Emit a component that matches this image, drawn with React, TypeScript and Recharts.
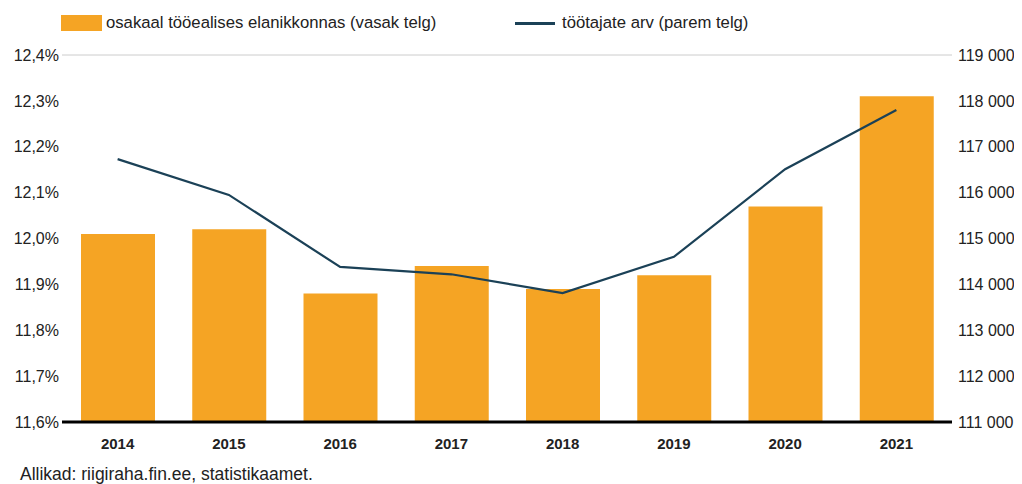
import React from "react";
import { ComposedChart, Bar, Line, XAxis, YAxis, CartesianGrid } from "recharts";

const years = ["2014", "2015", "2016", "2017", "2018", "2019", "2020", "2021"];
const shareValues = [12.01, 12.02, 11.88, 11.94, 11.89, 11.92, 12.07, 12.31];
const workerValues = [116730, 115950, 114380, 114220, 113810, 114600, 116510, 117800];
const leftTicks = [11.6, 11.7, 11.8, 11.9, 12.0, 12.1, 12.2, 12.3, 12.4];
const rightTicks = [111000, 112000, 113000, 114000, 115000, 116000, 117000, 118000, 119000];
const shareLabel = "osakaal tööealises elanikkonnas (vasak telg)";
const workerLabel = "töötajate arv (parem telg)";
const sourceText = "Allikad: riigiraha.fin.ee, statistikaamet.";

const data = years.map((y, i) => ({ year: y, share: shareValues[i], workers: workerValues[i] }));

const BAR = "#F5A424";
const LINE = "#1B4157";
const FONT = "'Liberation Sans', Arial, Helvetica, sans-serif";

const fmtLeft = (v: number) => v.toFixed(1).replace(".", ",") + "%";
const fmtRight = (v: number) => {
  const s = String(Math.round(v));
  return s.slice(0, s.length - 3) + " " + s.slice(s.length - 3);
};

export default function App() {
  return (
    <div style={{ position: "relative", width: 1006, height: 476, fontFamily: FONT, color: "#222" }}>
      <div style={{ position: "absolute", left: 53, top: 7, width: 41, height: 16, background: BAR }} />
      <div style={{ position: "absolute", left: 98, top: 5, fontSize: 16.7, lineHeight: "20px", whiteSpace: "nowrap" }}>{shareLabel}</div>
      <div style={{ position: "absolute", left: 507, top: 14, width: 40, height: 3, background: LINE }} />
      <div style={{ position: "absolute", left: 554, top: 5, fontSize: 16.7, lineHeight: "20px", whiteSpace: "nowrap" }}>{workerLabel}</div>
      <ComposedChart
        width={1006}
        height={460}
        data={data}
        margin={{ top: 47, right: 0, bottom: 0, left: 0 }}
      >
        <CartesianGrid vertical={false} stroke="#cccccc" strokeWidth={1} />
        <XAxis
          dataKey="year"
          axisLine={{ stroke: "#000", strokeWidth: 3 }}
          tickLine={false}
          tick={{ fill: "#222", fontSize: 15, fontWeight: 700, fontFamily: FONT }}
          tickMargin={10}
          height={46}
        />
        <YAxis
          yAxisId="left"
          orientation="left"
          domain={[11.6, 12.4]}
          ticks={leftTicks}
          tickFormatter={fmtLeft}
          axisLine={false}
          tickLine={false}
          tickSize={0}
          tickMargin={3}
          width={54}
          interval={0}
          allowDataOverflow
          tick={{ fill: "#222", fontSize: 16, fontFamily: FONT }}
        />
        <YAxis
          yAxisId="right"
          orientation="right"
          domain={[111000, 119000]}
          ticks={rightTicks}
          tickFormatter={fmtRight}
          axisLine={false}
          tickLine={false}
          tickSize={0}
          tickMargin={6}
          width={62}
          interval={0}
          allowDataOverflow
          tick={{ fill: "#222", fontSize: 16, fontFamily: FONT, textAnchor: "start" }}
        />
        <Bar yAxisId="left" dataKey="share" fill={BAR} barSize={74} isAnimationActive={false} />
        <Line
          yAxisId="right"
          dataKey="workers"
          stroke={LINE}
          strokeWidth={2.2}
          dot={false}
          activeDot={false}
          type="linear"
          isAnimationActive={false}
        />
      </ComposedChart>
      <div style={{ position: "absolute", left: 12, top: 456, fontSize: 17.5, lineHeight: "20px", whiteSpace: "nowrap" }}>
        {sourceText}
      </div>
    </div>
  );
}
